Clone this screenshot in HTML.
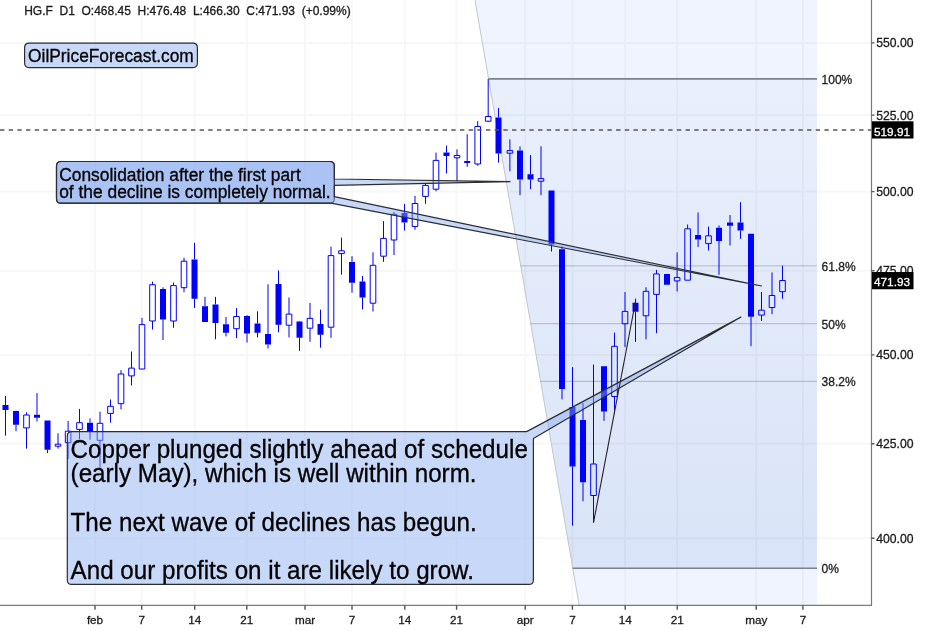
<!DOCTYPE html>
<html><head><meta charset="utf-8"><title>HG.F D1</title><style>
html,body{margin:0;padding:0;background:#fff;width:945px;height:631px;overflow:hidden}
svg{display:block}
text{will-change:transform}
text{font-family:"Liberation Sans",Arial,Helvetica,sans-serif}
</style></head><body>
<svg width="945" height="631" viewBox="0 0 945 631">
<defs><linearGradient id="fibg" x1="0" y1="78.9" x2="0" y2="568.3" gradientUnits="userSpaceOnUse">
<stop offset="0" stop-color="#e9effc"/><stop offset="1" stop-color="#d9e4f8"/></linearGradient></defs>
<rect x="0" y="0" width="945" height="631" fill="#fff"/>
<polygon points="475,0 817,0 817,78.9 488.58,78.9" fill="#eff4fe"/>
<polygon points="488.58,78.9 817,78.9 817,568.3 572.79,568.3" fill="url(#fibg)"/>
<polygon points="572.79,568.3 817,568.3 817,605 579.1,605" fill="#eff4fe"/>
<path d="M0 42.9H871.5M0 115.1H871.5M0 191.6H871.5M0 270.7H871.5M0 354.9H871.5M0 443.8H871.5M0 538.3H871.5M95 0V605.3M141.7 0V605.3M194.7 0V605.3M246.8 0V605.3M305 0V605.3M352 0V605.3M404.8 0V605.3M456.6 0V605.3M525.2 0V605.3M572.4 0V605.3M625.2 0V605.3M677.2 0V605.3M756.2 0V605.3M802.9 0V605.3" stroke="#000" stroke-opacity="0.03" stroke-width="2" fill="none"/>
<line x1="475" y1="0" x2="579.1" y2="605" stroke="#c3c6cc" stroke-width="1"/>
<text x="821.6" y="83.8" font-size="12" fill="#222" stroke="#222" stroke-width="0.3">100%</text>
<text x="821.6" y="270.75" font-size="12" fill="#222" stroke="#222" stroke-width="0.3">61.8%</text>
<text x="821.6" y="328.5" font-size="12" fill="#222" stroke="#222" stroke-width="0.3">50%</text>
<text x="821.6" y="386.25" font-size="12" fill="#222" stroke="#222" stroke-width="0.3">38.2%</text>
<text x="821.6" y="573.2" font-size="12" fill="#222" stroke="#222" stroke-width="0.3">0%</text>
<path d="M5.5 395.9V405M5.5 410.1V435.7M16 410.6V410.9M16 424.8V431.2M26.5 412.3V415M26.5 427.9V448.6M37 393.1V414.8M37 417.8V421.5M47.5 449.8V453.1M58 433.3V444.2M58 446.2V448.6M68.1 420.9V431.2M68.1 442.7V459M79.5 408.9V422.7M79.5 429.4V439.1M90 418.4V422.7M90 431.8V439.7M100 411.7V423.3M100 440.3V467.6M110.5 399.5V406.3M110.5 413.4V422.7M121 370.2V374M121 403.7V409.4M131.5 351.5V368.1M131.5 375.9V385.4M142 317.8V324.6M142 369V369.3M152.5 281.7V284.7M152.5 321V329.5M163 287.3V289.1M163 319.6V340M173.5 282.6V285.6M173.5 321V327.8M184 257.7V261.2M184 287.7V292.2M194.5 242.8V259.4M194.5 298.7V307.9M205 296.9V306.2M215.5 296.9V304.4M215.5 323.1V339.3M226 316.9V324.3M226 332.7V336.4M236.5 308.1V316.5M236.5 328.7V338.2M247 315.2V316M247 333.4V342.5M257.5 311.3V323.5M257.5 332.7V337.4M268 284.3V333.9M268 344.5V348.5M278.5 270.5V284M278.5 324.7V332.3M289 297.5V314.1M289 325.2V337.4M299.5 321.2V321.6M299.5 337.7V350.9M310 302.9V318.4M310 328.2V341.8M320.5 309.7V324M320.5 334.8V347.7M331 246.7V255.6M331 327.2V337.8M341.5 237.6V250.8M341.5 253.6V274.6M352 256.2V261.9M352 282.8V292.7M362.5 275.9V281.6M362.5 297.4V309.4M373 252.3V265.3M373 303.2V311.5M383.5 221.1V238.4M383.5 256.2V261.8M394 211.8V214.3M394 240V255.1M404.5 203.8V213.1M404.5 222.6V230.5M415 195.9V203.5M415 226.5V229.8M425.5 183.1V185.4M425.5 196.4V203.8M436 152.6V160.4M436 189.2V191.3M446.5 145.6V152.6M446.5 156V173.5M457 149.4V155.5M457 157.8V181.3M467.2 134.2V160.9M467.2 163V166.9M477.7 121.2V126.5M477.7 164V165.7M488.2 78.9V116.5M488.2 121.2V122.1M498.5 108.1V117.4M498.5 153.5V162.6M509.9 139.4V150.6M509.9 153.2V171.3M520 146.4V150.4M520 179.6V195.2M530.5 155.1V174.2M530.5 179.5V189.1M541 146.3V178.6M541 181.2V195.2M551.5 244.4V251.6M562 246.4V249.3M562 388.9V399.4M572.5 367.1V406.9M572.5 466.6V525.6M583 403V419.9M583 482.3V501.3M593.5 364.5V464M593.5 495.5V522.6M604 411.6V420.9M614.5 332.6V346.3M614.5 396.5V413.5M625 292V311.4M625 323.8V347M635.5 298.6V302.8M635.5 311.7V341.9M646 287.2V291.3M646 315.8V339.4M656.5 270V273.9M656.5 294.4V333.2M677.1 252.4V277.5M677.1 280.9V291.5M687.6 224.5V228.8M698.05 212.4V234.9M698.05 239.6V247M708.5 226.6V235.8M708.5 243.6V250.5M719 225.5V227.7M719 241V274.9M730 215V222.5M730 225.8V245.5M740.5 202.2V222.5M740.5 230.5V238.9M751 316.8V346.2M761.5 292V310.2M761.5 315.1V320.9M772 272.4V295.5M772 307.5V314.1M782.5 265.7V280.5M782.5 291.7V298.8" stroke="#0000ff" stroke-width="1" fill="none"/>
<path d="M2.5 405h6v5.1h-6zM13 410.9h6v13.9h-6zM34 414.8h6v3h-6zM44.5 420.6h6v29.2h-6zM87 422.7h6v9.1h-6zM160 289.1h6v30.5h-6zM191.5 259.4h6v39.3h-6zM202 306.2h6v15.7h-6zM212.5 304.4h6v18.7h-6zM223 324.3h6v8.4h-6zM244 316h6v17.4h-6zM254.5 323.5h6v9.2h-6zM265 333.9h6v10.6h-6zM275.5 284h6v40.7h-6zM296.5 321.6h6v16.1h-6zM317.5 324h6v10.8h-6zM349 261.9h6v20.9h-6zM359.5 281.6h6v15.8h-6zM401.5 213.1h6v9.5h-6zM443.5 152.6h6v3.4h-6zM464.2 160.9h6v2.1h-6zM495.5 117.4h6v36.1h-6zM517 150.4h6v29.2h-6zM527.5 174.2h6v5.3h-6zM548.5 190.5h6v53.9h-6zM559 249.3h6v139.6h-6zM569.5 406.9h6v59.7h-6zM580 419.9h6v62.4h-6zM601 366.3h6v45.3h-6zM632.5 302.8h6v8.9h-6zM664 273.9h6v10.8h-6zM695.05 234.9h6v4.7h-6zM716 227.7h6v13.3h-6zM727 222.5h6v3.3h-6zM737.5 222.5h6v8h-6zM748 233.7h6v83.1h-6z" fill="#0000ff"/>
<path d="M23.7 415h5.6v12.9h-5.6zM55.2 444.2h5.6v2h-5.6zM65.3 431.2h5.6v11.5h-5.6zM76.7 422.7h5.6v6.7h-5.6zM97.2 423.3h5.6v17h-5.6zM107.7 406.3h5.6v7.1h-5.6zM118.2 374h5.6v29.7h-5.6zM128.7 368.1h5.6v7.8h-5.6zM139.2 324.6h5.6v44.4h-5.6zM149.7 284.7h5.6v36.3h-5.6zM170.7 285.6h5.6v35.4h-5.6zM181.2 261.2h5.6v26.5h-5.6zM233.7 316.5h5.6v12.2h-5.6zM286.2 314.1h5.6v11.1h-5.6zM307.2 318.4h5.6v9.8h-5.6zM328.2 255.6h5.6v71.6h-5.6zM338.7 250.8h5.6v2.8h-5.6zM370.2 265.3h5.6v37.9h-5.6zM380.7 238.4h5.6v17.8h-5.6zM391.2 214.3h5.6v25.7h-5.6zM412.2 203.5h5.6v23h-5.6zM422.7 185.4h5.6v11h-5.6zM433.2 160.4h5.6v28.8h-5.6zM454.2 155.5h5.6v2.3h-5.6zM474.9 126.5h5.6v37.5h-5.6zM485.4 116.5h5.6v4.7h-5.6zM507.1 150.6h5.6v2.6h-5.6zM538.2 178.6h5.6v2.6h-5.6zM590.7 464h5.6v31.5h-5.6zM611.7 346.3h5.6v50.2h-5.6zM622.2 311.4h5.6v12.4h-5.6zM643.2 291.3h5.6v24.5h-5.6zM653.7 273.9h5.6v20.5h-5.6zM674.3 277.5h5.6v3.4h-5.6zM684.8 228.8h5.6v51.4h-5.6zM705.7 235.8h5.6v7.8h-5.6zM758.7 310.2h5.6v4.9h-5.6zM769.2 295.5h5.6v12h-5.6zM779.7 280.5h5.6v11.2h-5.6z" stroke="#0000ff" stroke-width="1" fill="none"/>
<line x1="488.58" y1="78.9" x2="817" y2="78.9" stroke="#7d818a" stroke-width="1.6"/>
<line x1="520.74" y1="265.85" x2="817" y2="265.85" stroke="rgba(0,0,0,0.18)" stroke-width="1.2"/>
<line x1="530.68" y1="323.6" x2="817" y2="323.6" stroke="rgba(0,0,0,0.18)" stroke-width="1.2"/>
<line x1="540.62" y1="381.35" x2="817" y2="381.35" stroke="rgba(0,0,0,0.18)" stroke-width="1.2"/>
<line x1="572.79" y1="568.3" x2="817" y2="568.3" stroke="#7d818a" stroke-width="1.6"/>
<line x1="0" y1="130" x2="871.5" y2="130" stroke="#555" stroke-width="1.4" stroke-dasharray="4.4 4.278"/>
<path d="M29.1 43.2H192.9Q197.4 43.2 197.4 47.7V63.1Q197.4 67.6 192.9 67.6H29.1Q24.6 67.6 24.6 63.1V47.7Q24.6 43.2 29.1 43.2Z" fill="rgb(134,169,240)" fill-opacity="0.455" stroke="#2b2d33" stroke-width="1.2" stroke-linejoin="round"/>
<text transform="scale(1,1.042)" x="28.1" y="59.79" font-size="17.35" fill="#000" stroke="#000" stroke-width="0.3">OilPriceForecast.com</text>
<path d="M61 161.5H329.8Q334.3 161.5 334.3 166V179L510 181.7L334.3 185.3V198.7Q334.3 203.2 329.8 203.2H61Q56.5 203.2 56.5 198.7V166Q56.5 161.5 61 161.5Z" fill="rgb(134,169,240)" fill-opacity="0.455" stroke="#2b2d33" stroke-width="1.2" stroke-linejoin="round"/>
<path d="M61 161.5H329.8Q334.3 161.5 334.3 166V196.6L761.5 286L331 203.2H61Q56.5 203.2 56.5 198.7V166Q56.5 161.5 61 161.5Z" fill="rgb(134,169,240)" fill-opacity="0.455" stroke="#2b2d33" stroke-width="1.2" stroke-linejoin="round"/>
<text transform="scale(1,1.042)" font-size="17.4" fill="#000" stroke="#000" stroke-width="0.3"><tspan x="59.2" y="173.7">Consolidation after the first part</tspan><tspan x="59.2" y="190.5">of the decline is completely normal.</tspan></text>
<path d="M71.8 431.6H526.6L740.9 317.1L533.4 438.6V579.9Q533.4 584.4 528.9 584.4H71.8Q67.3 584.4 67.3 579.9V436.1Q67.3 431.6 71.8 431.6Z" fill="rgb(134,169,240)" fill-opacity="0.455" stroke="#2b2d33" stroke-width="1.2" stroke-linejoin="round"/>
<text transform="scale(1,1.042)" font-size="24.2" fill="#000" stroke="#000" stroke-width="0.3"><tspan x="70.6" y="439.73">Copper plunged slightly ahead of schedule</tspan><tspan x="70.6" y="462.96">(early May), which is well within norm.</tspan><tspan x="70.6" y="509.4">The next wave of declines has begun.</tspan><tspan x="70.6" y="555.85">And our profits on it are likely to grow.</tspan></text>
<line x1="593.5" y1="522.7" x2="635.7" y2="300.5" stroke="#222" stroke-width="1.1"/>
<path d="M871.5 0V605.3H0" stroke="#7a7a7a" stroke-width="1.2" fill="none"/>
<path d="M871.5 42.9H874.5M871.5 115.1H874.5M871.5 191.6H874.5M871.5 270.7H874.5M871.5 354.9H874.5M871.5 443.8H874.5M871.5 538.3H874.5M95 605.3V609.8M141.7 605.3V609.8M194.7 605.3V609.8M246.8 605.3V609.8M305 605.3V609.8M352 605.3V609.8M404.8 605.3V609.8M456.6 605.3V609.8M525.2 605.3V609.8M572.4 605.3V609.8M625.2 605.3V609.8M677.2 605.3V609.8M756.2 605.3V609.8M802.9 605.3V609.8" stroke="#555" stroke-width="1.4" fill="none"/>
<text x="876.2" y="47.3" font-size="12.2" fill="#1a1a1a" stroke="#1a1a1a" stroke-width="0.3">550.00</text>
<text x="876.2" y="119.5" font-size="12.2" fill="#1a1a1a" stroke="#1a1a1a" stroke-width="0.3">525.00</text>
<text x="876.2" y="196" font-size="12.2" fill="#1a1a1a" stroke="#1a1a1a" stroke-width="0.3">500.00</text>
<text x="876.2" y="275.1" font-size="12.2" fill="#1a1a1a" stroke="#1a1a1a" stroke-width="0.3">475.00</text>
<text x="876.2" y="359.3" font-size="12.2" fill="#1a1a1a" stroke="#1a1a1a" stroke-width="0.3">450.00</text>
<text x="876.2" y="448.2" font-size="12.2" fill="#1a1a1a" stroke="#1a1a1a" stroke-width="0.3">425.00</text>
<text x="876.2" y="542.7" font-size="12.2" fill="#1a1a1a" stroke="#1a1a1a" stroke-width="0.3">400.00</text>
<text x="95" y="623.6" font-size="11.7" fill="#1a1a1a" stroke="#1a1a1a" stroke-width="0.3" text-anchor="middle">feb</text>
<text x="141.7" y="623.6" font-size="11.7" fill="#1a1a1a" stroke="#1a1a1a" stroke-width="0.3" text-anchor="middle">7</text>
<text x="194.7" y="623.6" font-size="11.7" fill="#1a1a1a" stroke="#1a1a1a" stroke-width="0.3" text-anchor="middle">14</text>
<text x="246.8" y="623.6" font-size="11.7" fill="#1a1a1a" stroke="#1a1a1a" stroke-width="0.3" text-anchor="middle">21</text>
<text x="305" y="623.6" font-size="11.7" fill="#1a1a1a" stroke="#1a1a1a" stroke-width="0.3" text-anchor="middle">mar</text>
<text x="352" y="623.6" font-size="11.7" fill="#1a1a1a" stroke="#1a1a1a" stroke-width="0.3" text-anchor="middle">7</text>
<text x="404.8" y="623.6" font-size="11.7" fill="#1a1a1a" stroke="#1a1a1a" stroke-width="0.3" text-anchor="middle">14</text>
<text x="456.6" y="623.6" font-size="11.7" fill="#1a1a1a" stroke="#1a1a1a" stroke-width="0.3" text-anchor="middle">21</text>
<text x="525.2" y="623.6" font-size="11.7" fill="#1a1a1a" stroke="#1a1a1a" stroke-width="0.3" text-anchor="middle">apr</text>
<text x="572.4" y="623.6" font-size="11.7" fill="#1a1a1a" stroke="#1a1a1a" stroke-width="0.3" text-anchor="middle">7</text>
<text x="625.2" y="623.6" font-size="11.7" fill="#1a1a1a" stroke="#1a1a1a" stroke-width="0.3" text-anchor="middle">14</text>
<text x="677.2" y="623.6" font-size="11.7" fill="#1a1a1a" stroke="#1a1a1a" stroke-width="0.3" text-anchor="middle">21</text>
<text x="756.2" y="623.6" font-size="11.7" fill="#1a1a1a" stroke="#1a1a1a" stroke-width="0.3" text-anchor="middle">may</text>
<text x="802.9" y="623.6" font-size="11.7" fill="#1a1a1a" stroke="#1a1a1a" stroke-width="0.3" text-anchor="middle">7</text>
<rect x="872" y="121.3" width="41.5" height="17.2" fill="#000"/>
<text x="874" y="135.7" font-size="11.8" fill="#fff" stroke="#fff" stroke-width="0.3">519.91</text>
<rect x="872" y="272.05" width="41.5" height="17.2" fill="#000"/>
<text x="874" y="286.45" font-size="11.8" fill="#fff" stroke="#fff" stroke-width="0.3">471.93</text>
<text x="24.2" y="14.9" font-size="12" fill="#1a1a1a" stroke="#1a1a1a" stroke-width="0.3" xml:space="preserve" style="white-space:pre">HG.F  D1  O:468.45  H:476.48  L:466.30  C:471.93  (+0.99%)</text>
</svg></body></html>
